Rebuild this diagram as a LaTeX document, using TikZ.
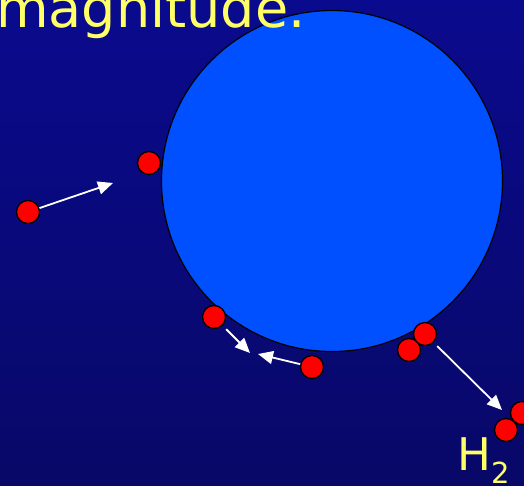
\documentclass[tikz,border=0pt]{standalone}
\usepackage{fontspec}
\setmainfont{DejaVu Sans}
\usetikzlibrary{arrows.meta}

\definecolor{bgtop}{RGB}{10,10,142}
\definecolor{bgbottom}{RGB}{8,8,104}
\definecolor{surface}{RGB}{0,80,255}
\definecolor{label}{RGB}{255,255,102}

\begin{document}
\begin{tikzpicture}[
        x=1pt,
        y=-1pt,
        atom/.style={circle,draw,fill=red,line width=1.3pt,inner sep=0pt,minimum size=23pt},
        move/.style={white,line width=1.8pt,-{Triangle[length=15pt,width=13pt]}},
        title/.style={text=label,inner sep=0pt,font=\fontsize{54}{60}\selectfont}
    ]
    \useasboundingbox (0,0) rectangle (524,485);
    \clip (0,0) rectangle (524,485);
    \fill[top color=bgtop,bottom color=bgbottom] (0,0) rectangle (524,485);

    \node[circle,draw,fill=surface,line width=1.2pt,inner sep=0pt,minimum size=341pt] (metal) at (332,181) {};

    \node[title,anchor=base west] (caption) at (-4,27) {magnitude.};

    % hydrogen atoms
    \node[atom] (h1) at (28,212) {};
    \node[atom] (h2) at (149,163) {};
    \node[atom] (h3) at (214,317) {};
    \node[atom] (h4) at (312,367) {};
    \node[atom] (h5) at (409,350) {};
    \node[atom] (h6) at (425,334) {};
    \node[atom] (h8) at (522,413) {};
    \node[atom] (h7) at (506,430) {};

    \coordinate (t1) at (113,183);
    \coordinate (t2) at (250,353);
    \coordinate (t3) at (258,354);
    \coordinate (t4) at (502,410);

    \draw[move] (h1) -- (t1);
    \draw[move,shorten <=5pt] (h3) -- (t2);
    \draw[move] (h4) -- (t3);
    \draw[move,shorten <=5pt] (h6) -- (t4);

    \node[text=label,inner sep=0pt,anchor=base west,font=\fontsize{45}{50}\selectfont] (molecule) at (457,470)
        {H\raisebox{-13pt}{\fontsize{29}{30}\selectfont 2}};
\end{tikzpicture}
\end{document}
